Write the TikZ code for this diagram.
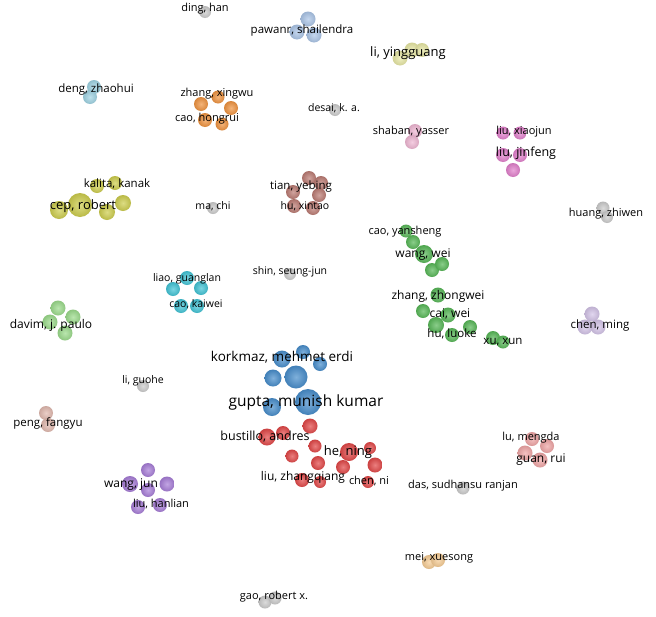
\documentclass[tikz,border=0pt]{standalone}
\usepackage{fontspec}
\setmainfont{Open Sans}
\usetikzlibrary{backgrounds}
\definecolor{cblue}{RGB}{72,142,204}
\definecolor{cred}{RGB}{226,72,72}
\definecolor{cgreen}{RGB}{88,184,88}
\definecolor{cyel}{RGB}{206,206,78}
\definecolor{cyel2}{RGB}{232,232,165}
\definecolor{corange}{RGB}{240,148,64}
\definecolor{cbrown}{RGB}{188,124,116}
\definecolor{ccyan}{RGB}{66,196,214}
\definecolor{ccyan2}{RGB}{160,212,228}
\definecolor{cblue2}{RGB}{172,198,232}
\definecolor{cmag}{RGB}{226,128,204}
\definecolor{cpink}{RGB}{240,184,212}
\definecolor{cgreen2}{RGB}{156,220,140}
\definecolor{cpeach}{RGB}{226,186,176}
\definecolor{cpurple}{RGB}{168,126,216}
\definecolor{clav}{RGB}{212,196,232}
\definecolor{csalmon}{RGB}{240,166,166}
\definecolor{corange2}{RGB}{246,204,148}
\definecolor{cgrey}{RGB}{204,204,204}
\def\bub(#1)(#2,#3)(#4)(#5){\node[bub=#5, minimum size={2*#4+2}] (#1) at (#2,#3) {};}

\begin{document}
\begin{tikzpicture}[x=1pt, y=-1pt,
		bub/.style={circle, inner sep=0pt, inner color=#1!70!white, outer color=#1!90!black},
		lk/.style={line width=0.55pt, draw=#1, opacity=0.6},
		lab/.style={font=\fontsize{#1}{#1}\selectfont, inner sep=0pt, text=black},
		lab/.default=11]
		%%%%% START %%%%%
		
		\useasboundingbox[fill=white] (0,0) rectangle (656,616);
		
		% single authors
		\bub(ding)(205,12)(5)(cgrey);
		\bub(desai)(335,110)(5)(cgrey);
		\bub(machi)(213,208)(5)(cgrey);
		\bub(shin)(290,274)(5)(cgrey);
		\bub(guohe)(143,386)(5)(cgrey);
		\bub(das)(463,488)(5.5)(cgrey);
		\bub(huang1)(603,208)(5.5)(cgrey);
		\bub(huang2)(607,217)(5)(cgrey);
		\bub(gao1)(265,602)(5.5)(cgrey);
		\bub(gao2)(275,598)(5.5)(cgrey);
		
		% small groups
		\bub(w1)(308,19)(6.5)(cblue2);
		\bub(w2)(297,32)(6.5)(cblue2);
		\bub(w3)(314,35)(6.5)(cblue2);
		\bub(d1)(94,87)(6)(ccyan2);
		\bub(d2)(90,97)(6)(ccyan2);
		\bub(l1)(400,58)(6.5)(cyel2);
		\bub(l2)(412,50)(6.5)(cyel2);
		\bub(l3)(422,50)(6)(cyel2);
		\bub(s1)(415,131)(6)(cpink);
		\bub(s2)(412,142)(6)(cpink);
		\bub(v1)(58,308)(6.5)(cgreen2);
		\bub(v2)(73,317)(6.5)(cgreen2);
		\bub(v3)(50,322)(6.5)(cgreen2);
		\bub(v4)(65,333)(6.5)(cgreen2);
		\bub(f1)(46,413)(6)(cpeach);
		\bub(f2)(48,425)(6)(cpeach);
		\bub(u1)(532,439)(6)(csalmon);
		\bub(u2)(547,446)(6)(csalmon);
		\bub(u3)(525,453)(6.5)(csalmon);
		\bub(u4)(540,460)(6.5)(csalmon);
		\bub(e1)(429,562)(6)(corange2);
		\bub(e2)(438,560)(6)(corange2);
		\bub(n1)(592,314)(6.5)(clav);
		\bub(n2)(585,327)(6.5)(clav);
		\bub(n3)(598,327)(6.5)(clav);
		
		% orange
		\bub(o1)(201,104)(6)(corange);
		\bub(o2)(218,97)(5.5)(corange);
		\bub(o3)(231,108)(6)(corange);
		\bub(o4)(205,120)(6)(corange);
		\bub(o5)(222,124)(5.5)(corange);
		
		% brown
		\bub(t1)(309,178)(6)(cbrown);
		\bub(t2)(321,183)(6)(cbrown);
		\bub(t3)(293,192)(6)(cbrown);
		\bub(t4)(319,195)(6)(cbrown);
		\bub(t5)(294,206)(6)(cbrown);
		\bub(t6)(313,208)(6)(cbrown);
		
		% yellow
		\bub(y1)(115,183)(6)(cyel);
		\bub(y2)(97,186)(6)(cyel);
		\bub(y3)(123,203)(7)(cyel);
		\bub(y4)(107,212)(7)(cyel);
		\bub(y5)(80,205)(11)(cyel);
		\bub(y6)(59,210)(8)(cyel);
		
		% magenta
		\bub(m1)(503,133)(5.5)(cmag);
		\bub(m2)(520,133)(5.5)(cmag);
		\bub(m3)(503,155)(6)(cmag);
		\bub(m4)(520,155)(6)(cmag);
		\bub(m5)(513,170)(6)(cmag);
		
		% cyan
		\bub(c1)(187,278)(6)(ccyan);
		\bub(c2)(173,289)(6)(ccyan);
		\bub(c3)(201,288)(6)(ccyan);
		\bub(c4)(181,306)(6)(ccyan);
		\bub(c5)(197,306)(6)(ccyan);
		
		% purple
		\bub(p1)(148,470)(6)(cpurple);
		\bub(p2)(130,484)(7)(cpurple);
		\bub(p3)(148,490)(6)(cpurple);
		\bub(p4)(167,484)(6.5)(cpurple);
		\bub(p5)(138,507)(6)(cpurple);
		\bub(p6)(160,505)(6)(cpurple);
		
		% green
		\bub(g1)(406,231)(5.5)(cgreen);
		\bub(g2)(413,242)(6)(cgreen);
		\bub(g3)(424,254)(8)(cgreen);
		\bub(g4)(432,270)(6)(cgreen);
		\bub(g5)(442,264)(6)(cgreen);
		\bub(g6)(438,295)(6.5)(cgreen);
		\bub(g7)(423,311)(6)(cgreen);
		\bub(g8)(448,315)(6.5)(cgreen);
		\bub(g9)(436,325)(7)(cgreen);
		\bub(g10)(452,335)(6)(cgreen);
		\bub(g11)(470,327)(6)(cgreen);
		\bub(g12)(493,338)(6)(cgreen);
		\bub(g13)(503,342)(5.5)(cgreen);
		
		% blue
		\bub(b1)(282,359)(7.5)(cblue);
		\bub(b2)(303,352)(6)(cblue);
		\bub(b3)(320,364)(6)(cblue);
		\bub(b4)(273,378)(7.5)(cblue);
		\bub(b5)(296,377)(10.5)(cblue);
		\bub(b6)(308,402)(12)(cblue);
		\bub(b7)(272,407)(8)(cblue);
		
		% red
		\bub(r1)(267,437)(7.5)(cred);
		\bub(r2)(283,433)(6)(cred);
		\bub(r3)(310,426)(6.5)(cred);
		\bub(r4)(315,446)(5.5)(cred);
		\bub(r5)(292,456)(5.5)(cred);
		\bub(r6)(318,463)(6)(cred);
		\bub(r7)(302,480)(6)(cred);
		\bub(r8)(320,482)(5)(cred);
		\bub(r9)(343,467)(6)(cred);
		\bub(r10)(349,452)(8)(cred);
		\bub(r11)(370,448)(5)(cred);
		\bub(r12)(375,465)(6.5)(cred);
		\bub(r13)(368,482)(5)(cred);
		
		% links
		\begin{pgfonlayer}{background}
		\draw[lk=cgrey] (huang1) -- (huang2);
		\draw[lk=cgrey] (gao1) -- (gao2);
		\foreach \a/\b in {w1/w2, w1/w3, w2/w3} \draw[lk=cblue2] (\a) -- (\b);
		\draw[lk=ccyan2] (d1) -- (d2);
		\foreach \a/\b in {l1/l2, l2/l3, l1/l3} \draw[lk=cyel2] (\a) -- (\b);
		\draw[lk=cpink] (s1) -- (s2);
		\foreach \a/\b in {v1/v2, v1/v3, v2/v4, v3/v4, v1/v4, v2/v3} \draw[lk=cgreen2] (\a) -- (\b);
		\draw[lk=cpeach] (f1) -- (f2);
		\foreach \a/\b in {u1/u2, u1/u3, u2/u4, u3/u4, u1/u4, u2/u3} \draw[lk=csalmon] (\a) -- (\b);
		\draw[lk=corange2] (e1) -- (e2);
		\foreach \a/\b in {n1/n2, n1/n3, n2/n3} \draw[lk=clav] (\a) -- (\b);
		\foreach \a/\b in {o1/o2, o1/o3, o1/o4, o1/o5, o2/o3, o2/o4, o2/o5, o3/o4, o3/o5, o4/o5}
			\draw[lk=corange] (\a) to[bend left=8] (\b);
		\foreach \a/\b in {t1/t2, t1/t3, t1/t4, t2/t4, t3/t4, t3/t5, t4/t6, t5/t6, t3/t6, t2/t3}
			\draw[lk=cbrown] (\a) to[bend left=8] (\b);
		\foreach \a/\b in {y1/y2, y1/y3, y2/y5, y5/y4, y4/y3, y5/y6, y2/y3, y1/y5, y2/y4}
			\draw[lk=cyel] (\a) to[bend left=8] (\b);
		\foreach \a/\b in {m1/m2, m1/m3, m2/m4, m3/m4, m1/m4, m2/m3, m3/m5, m4/m5}
			\draw[lk=cmag] (\a) to[bend left=8] (\b);
		\foreach \a/\b in {c1/c2, c1/c3, c1/c4, c1/c5, c2/c3, c2/c4, c2/c5, c3/c4, c3/c5, c4/c5}
			\draw[lk=ccyan] (\a) to[bend left=8] (\b);
		\foreach \a/\b in {p1/p2, p1/p3, p1/p4, p2/p3, p3/p4, p2/p5, p3/p5, p3/p6, p4/p6, p5/p6}
			\draw[lk=cpurple] (\a) to[bend left=8] (\b);
		\foreach \a/\b in {g1/g2, g2/g3, g3/g4, g3/g5, g4/g5, g3/g6, g5/g6, g4/g6, g6/g7, g6/g8,
			g6/g9, g7/g8, g7/g9, g8/g9, g8/g10, g9/g10, g8/g11, g6/g11, g11/g12, g12/g13, g10/g11, g9/g12}
			\draw[lk=cgreen] (\a) to[bend left=10] (\b);
		\foreach \a/\b in {b1/b2, b1/b4, b1/b5, b2/b3, b2/b5, b3/b5, b3/b6, b4/b5, b4/b6, b4/b7,
			b5/b6, b5/b7, b6/b7, b1/b6, b2/b6}
			\draw[lk=cblue] (\a) to[bend left=8] (\b);
		\foreach \a/\b in {b6/r3, b6/r1, b7/r1, b7/r2, b5/r3, b6/r10, b4/r2, b6/r4, b3/r10, b7/r5}
			\draw[lk=cblue!50!cred] (\a) to[bend left=8] (\b);
		\foreach \a/\b in {r1/r2, r2/r3, r1/r5, r2/r5, r3/r4, r4/r5, r4/r10, r3/r10, r5/r6, r5/r7,
			r6/r7, r6/r9, r6/r10, r7/r8, r8/r9, r9/r10, r10/r11, r10/r12, r11/r12, r12/r13, r9/r13,
			r4/r9, r1/r7, r3/r11, r2/r6, r8/r13, r4/r6, r9/r12, r1/r4, r5/r9, r3/r12}
			\draw[lk=cred] (\a) to[bend left=8] (\b);
		\end{pgfonlayer}
		
		% labels
		\node[lab] (tding) at (205,9) {ding, han};
		\node[lab=11.5] (tpawanr) at (302,31) {pawanr, shailendra};
		\node[lab=13] (tyingguang) at (408,53) {li, yingguang};
		\node[lab=11.5] (tdeng) at (96,90) {deng, zhaohui};
		\node[lab] (txingwu) at (217,94) {zhang, xingwu};
		\node[lab] (thongrui) at (207,119) {cao, hongrui};
		\node[lab=10.5] (tdesai) at (334,108) {desai, k. a.};
		\node[lab] (tshaban) at (411,132) {shaban, yasser};
		\node[lab] (txiaojun) at (524,132) {liu, xiaojun};
		\node[lab=12.5] (tjinfeng) at (526,153) {liu, jinfeng};
		\node[lab=11.5] (tkalita) at (117,184) {kalita, kanak};
		\node[lab=13] (tcep) at (83,206) {cep, robert};
		\node[lab=10.5] (tmachi) at (213,206) {ma, chi};
		\node[lab=11.5] (ttian) at (301,187) {tian, yebing};
		\node[lab=10.5] (txintao) at (305,206) {hu, xintao};
		\node[lab] (thuang) at (606,214) {huang, zhiwen};
		\node[lab] (tyansheng) at (405,232) {cao, yansheng};
		\node[lab=12] (twangwei) at (423,255) {wang, wei};
		\node[lab=10.5] (tliao) at (187,279) {liao, guanglan};
		\node[lab=10.5] (tkaiwei) at (196,304) {cao, kaiwei};
		\node[lab=10.5] (tshin) at (290,272) {shin, seung-jun};
		\node[lab=12] (tzhongwei) at (438,296) {zhang, zhongwei};
		\node[lab=12] (tcai) at (450,314) {cai, wei};
		\node[lab=12] (tdavim) at (51,325) {davim, j. paulo};
		\node[lab=11.5] (tchenming) at (600,326) {chen, ming};
		\node[lab=11.5] (tluoke) at (452,334) {hu, luoke};
		\node[lab=11.5] (txu) at (503,342) {xu, xun};
		\node[lab=13.5] (tkorkmaz) at (282,357) {korkmaz, mehmet erdi};
		\node[lab=10.5] (tguohe) at (143,381) {li, guohe};
		\node[lab=15.5] (tgupta) at (306,402) {gupta, munish kumar};
		\node[lab=11.5] (tpeng) at (48,423) {peng, fangyu};
		\node[lab=12.5] (tbustillo) at (265,437) {bustillo, andres};
		\node[lab] (tmengda) at (531,438) {lu, mengda};
		\node[lab=13] (the) at (348,452) {he, ning};
		\node[lab=12] (tguan) at (541,460) {guan, rui};
		\node[lab=12] (twangjun) at (131,485) {wang, jun};
		\node[lab=12] (tzhangqiang) at (303,477) {liu, zhangqiang};
		\node[lab] (tchenni) at (369,481) {chen, ni};
		\node[lab] (tdas) at (463,486) {das, sudhansu ranjan};
		\node[lab] (thanlian) at (161,504) {liu, hanlian};
		\node[lab] (tmei) at (439,558) {mei, xuesong};
		\node[lab] (tgao) at (274,597) {gao, robert x.};
		
		%%%%% END %%%%%
	\end{tikzpicture}
\end{document}
